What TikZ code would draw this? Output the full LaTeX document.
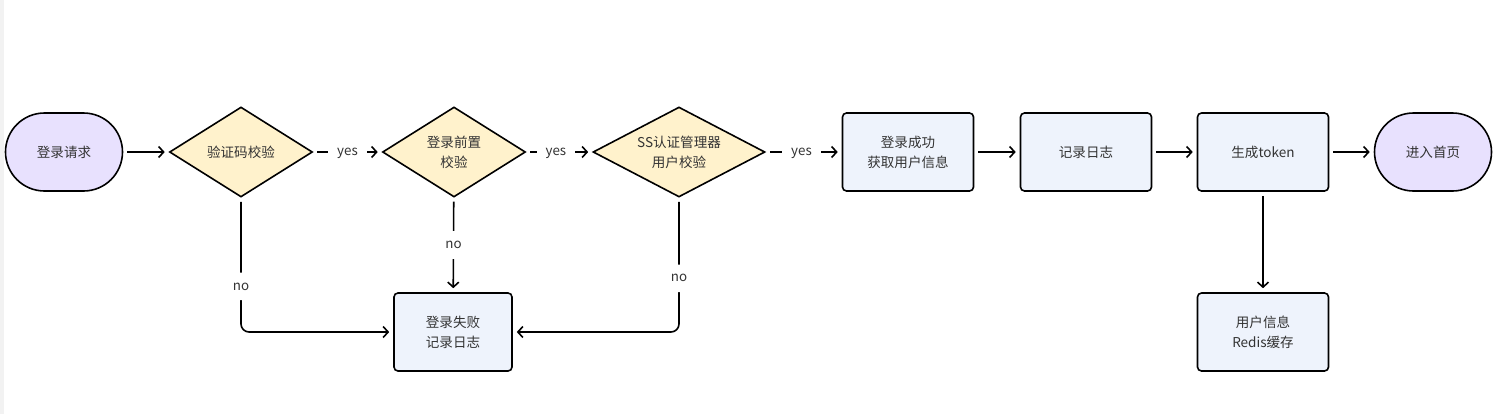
\documentclass[tikz,border=0pt]{standalone}
\usepackage{fontspec}
\setmainfont{Noto Sans CJK SC}
\usetikzlibrary{shapes.geometric,arrows.meta}
\definecolor{termfill}{HTML}{E8E1FE}
\definecolor{decfill}{HTML}{FFF2CC}
\definecolor{boxfill}{HTML}{EEF3FC}
\definecolor{txtgray}{HTML}{333333}

\begin{document}
\begin{tikzpicture}[x=1bp,y=-1bp,
	every node/.style={text=txtgray,font=\fontsize{13.6}{20}\selectfont,align=center},
	term/.style={draw,line width=1.6bp,fill=termfill,rounded corners=39bp,minimum width=117bp,minimum height=78bp},
	decision/.style={draw,line width=1.6bp,fill=decfill,diamond,aspect=1.9,inner sep=0pt,minimum width=#1,minimum height=90bp},
	proc/.style={draw,line width=1.6bp,fill=boxfill,rounded corners=4bp,minimum width=131bp,minimum height=78bp},
	flow/.style={draw=black,line width=1.6bp,-{Straight Barb[length=5bp,width=11bp]},shorten >=4bp,shorten <=4bp},
	lbl/.style={fill=white,inner xsep=9bp,inner ysep=10bp,font=\fontsize{13.4}{15}\selectfont},
	yeslbl/.style={lbl,text depth=0pt,inner ysep=4bp}]

	\useasboundingbox (0,0) rectangle (1498,414);
	\fill[white] (0,0) rectangle (1498,414);
	\fill[gray!10] (0,0) rectangle (4,414);

	\node[term] (start) at (64,152) {登录请求};
	\node[decision=143bp] (code) at (241,152) {验证码校验};
	\node[decision=143bp] (pre) at (454,152) {登录前置\\校验};
	\node[decision=172bp] (auth) at (679,152) {SS认证管理器\\用户校验};
	\node[proc] (ok) at (908,152) {登录成功\\获取用户信息};
	\node[proc] (log) at (1086,152) {记录日志};
	\node[proc] (token) at (1263,152) {生成token};
	\node[term] (home) at (1433,152) {进入首页};
	\node[proc,minimum width=118bp] (fail) at (453,332) {登录失败\\记录日志};
	\node[proc] (redis) at (1263,332) {用户信息\\Redis缓存};

	\draw[flow] (start) -- (code);
	\draw[flow] (code) -- node[yeslbl]{yes} (pre);
	\draw[flow] (pre) -- node[yeslbl,pos=.45]{yes} (auth);
	\draw[flow] (auth) -- node[yeslbl,pos=.47]{yes} (ok);
	\draw[flow] (ok) -- (log);
	\draw[flow] (log) -- (token);
	\draw[flow] (token) -- (home);
	\draw[flow] (token) -- (redis);
	\draw[flow] (pre) -- node[lbl]{no} (fail);
	\draw[flow,rounded corners=8bp] (code) |- node[lbl,pos=.33]{no} (fail);
	\draw[flow,rounded corners=8bp] (auth) |- node[lbl,pos=.3]{no} (fail);

\end{tikzpicture}
\end{document}
